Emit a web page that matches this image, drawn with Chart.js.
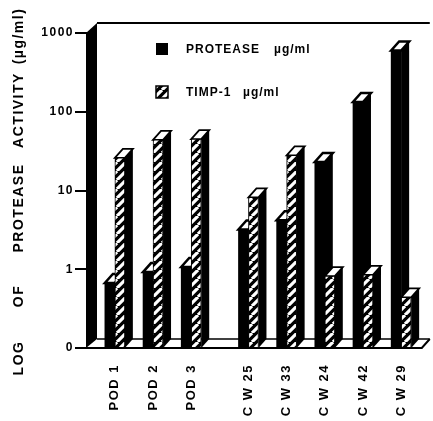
<!DOCTYPE html>
<html><head><meta charset="utf-8">
<script src="https://cdn.jsdelivr.net/npm/chart.js@4/dist/chart.umd.min.js"></script>
<style>html,body{margin:0;padding:0;background:#fff;}#wrap{width:433px;height:421px;position:relative;}</style>
</head><body><div id="wrap"><canvas id="c" width="433" height="421"></canvas></div>
<script>
const categories = ['POD 1','POD 2','POD 3','C W 25','C W 33','C W 24','C W 42','C W 29'];
const protease = [0.67, 0.92, 1.07, 3.2, 4.2, 23, 133, 600];
const timp1 = [26, 44, 45, 8.2, 28, 0.82, 0.85, 0.44];
const yTickValues = [0.1, 1, 10, 100, 1000];
const yTickLabels = ['0', '1', '10', '100', '1000'];
const seriesNames = ['PROTEASE', 'TIMP-1'];
const unitLabel = 'µg/ml';
const yTitleWords = ['LOG', 'OF', 'PROTEASE', 'ACTIVITY', '(µg/ml)'];

// layout helpers (positions, not data)
const slot = i => i + (i >= 3 ? 0.5 : 0);
const DX = 8, DY = 9;
const FONT = '"Liberation Sans", Arial, sans-serif';

Chart.defaults.font.family = FONT;
Chart.defaults.font.weight = 'bold';
Chart.defaults.font.size = 12;
Chart.defaults.color = '#000';

const canvas = document.getElementById('c');
const mainCtx = canvas.getContext('2d');
function makeHatch() {
  const n = 9;
  const c = document.createElement('canvas');
  c.width = n; c.height = n;
  const g = c.getContext('2d');
  g.fillStyle = '#000'; g.fillRect(0, 0, n, n);
  g.strokeStyle = '#fff'; g.lineWidth = 3.2;
  g.beginPath();
  for (const o of [-n, 0, n]) { g.moveTo(o, n); g.lineTo(o + n, 0); }
  g.stroke();
  return mainCtx.createPattern(c, 'repeat');
}
const hatch = makeHatch();

const spacingPlugin = {
  id: 'spacing',
  beforeLayout(chart) { chart.ctx.letterSpacing = '1.5px'; },
  beforeDraw(chart) {
    chart.ctx.letterSpacing = '1.5px';
    const ctx = chart.ctx; ctx.save(); ctx.fillStyle = '#fff'; ctx.fillRect(0, 0, chart.width, chart.height); ctx.restore();
  }
};

const depthPlugin = {
  id: 'depth',
  beforeDatasetsDraw(chart) {
    const ctx = chart.ctx;
    const {top, bottom, left, right} = chart.chartArea;
    ctx.save();
    ctx.strokeStyle = '#000'; ctx.lineWidth = 1.5;
    ctx.beginPath(); ctx.moveTo(left + 10, bottom - DY); ctx.lineTo(right, bottom - DY); ctx.stroke();
    [0, 1].forEach(di => {
      const meta = chart.getDatasetMeta(di);
      meta.data.forEach(el => {
        const {x, y, base, width} = el.getProps(['x', 'y', 'base', 'width'], true);
        const l = x - width / 2, r = x + width / 2;
        ctx.fillStyle = '#000';
        ctx.beginPath();
        ctx.moveTo(r, y); ctx.lineTo(r + DX, y - DY); ctx.lineTo(r + DX, base - DY); ctx.lineTo(r, base);
        ctx.closePath(); ctx.fill();
        ctx.beginPath();
        ctx.moveTo(l, y); ctx.lineTo(r, y); ctx.lineTo(r + DX, y - DY); ctx.lineTo(l + DX, y - DY);
        ctx.closePath();
        ctx.fillStyle = '#fff'; ctx.fill();
        ctx.lineWidth = di === 0 ? 2.5 : 1.8; ctx.strokeStyle = '#000'; ctx.stroke();
      });
    });
    ctx.restore();
  },
  afterDatasetsDraw(chart) {
    const ctx = chart.ctx;
    const {top, bottom, left, right} = chart.chartArea;
    ctx.save();
    ctx.strokeStyle = '#000';
    ctx.lineWidth = 2;
    ctx.beginPath(); ctx.moveTo(left, bottom); ctx.lineTo(right - DX, bottom); ctx.lineTo(right, bottom - DY); ctx.stroke();
    ctx.fillStyle = '#000';
    ctx.beginPath();
    ctx.moveTo(left - 1, bottom); ctx.lineTo(left - 1, top); ctx.lineTo(left + 10, top - 10); ctx.lineTo(left + 10, bottom - DY);
    ctx.closePath(); ctx.fill();
    ctx.lineWidth = 2;
    ctx.beginPath(); ctx.moveTo(left + 10, top - 10); ctx.lineTo(right, top - 10); ctx.stroke();
    ctx.restore();
  },
  afterDraw(chart) {
    const ctx = chart.ctx;
    ctx.save();
    ctx.fillStyle = '#000';
    ctx.fillRect(156, 43, 12, 12);
    ctx.fillStyle = hatch; ctx.fillRect(156, 86, 12, 12);
    ctx.strokeStyle = '#000'; ctx.lineWidth = 1.5; ctx.strokeRect(156, 86, 12, 12);
    ctx.fillStyle = '#000';
    ctx.letterSpacing = '1px';
    ctx.font = 'bold 12px ' + FONT;
    ctx.textBaseline = 'middle'; ctx.textAlign = 'left';
    ctx.fillText(seriesNames[0], 186, 50);
    ctx.fillText(unitLabel, 274, 50);
    ctx.fillText(seriesNames[1], 186, 93);
    ctx.fillText(unitLabel, 243, 93);
    ctx.letterSpacing = '1.5px';
    ctx.font = 'bold 14px ' + FONT;
    ctx.textAlign = 'center';
    const centers = [358, 296, 208, 110, 36];
    yTitleWords.forEach((w, i) => {
      ctx.save(); ctx.translate(19, centers[i]); ctx.rotate(-Math.PI / 2);
      ctx.fillText(w, 0, 0); ctx.restore();
    });
    ctx.restore();
  }
};

new Chart(canvas, {
  type: 'bar',
  data: {
    datasets: [
      { label: seriesNames[0], data: categories.map((_, i) => ({x: slot(i), y: protease[i]})),
        backgroundColor: '#000', borderWidth: 0, barThickness: 10 },
      { label: seriesNames[1], data: categories.map((_, i) => ({x: slot(i), y: timp1[i]})),
        backgroundColor: hatch, borderColor: '#000', borderWidth: 1, borderSkipped: false, barThickness: 10 }
    ]
  },
  options: {
    responsive: false,
    animation: false,
    devicePixelRatio: 1,
    layout: { padding: { top: 33, right: 3, left: 0, bottom: 0 } },
    plugins: { legend: { display: false }, tooltip: { enabled: false } },
    scales: {
      x: {
        type: 'linear', min: -0.73, max: 8.25, offset: false,
        afterBuildTicks: s => { s.ticks = categories.map((_, i) => ({ value: slot(i) })); },
        ticks: { callback: (v, i) => categories[i], autoSkip: false, minRotation: 90, maxRotation: 90, padding: 16,
                 font: { size: 13, weight: 'bold' }, color: '#000' },
        grid: { display: false, drawTicks: false },
        border: { display: false },
        afterFit: s => { s.height = 73; }
      },
      y: {
        type: 'logarithmic', min: 0.1, max: 1000,
        afterBuildTicks: s => { s.ticks = yTickValues.map(v => ({ value: v })); },
        ticks: { callback: v => { const k = yTickValues.indexOf(v); return k >= 0 ? yTickLabels[k] : ''; },
                 padding: 1, font: { size: 12, weight: 'bold' }, color: '#000' },
        grid: { drawOnChartArea: false, drawTicks: true, tickLength: 12, color: '#000', lineWidth: 2 },
        border: { display: false },
        afterFit: s => { s.width = 87; }
      }
    }
  },
  plugins: [spacingPlugin, depthPlugin]
});
</script></body></html>
